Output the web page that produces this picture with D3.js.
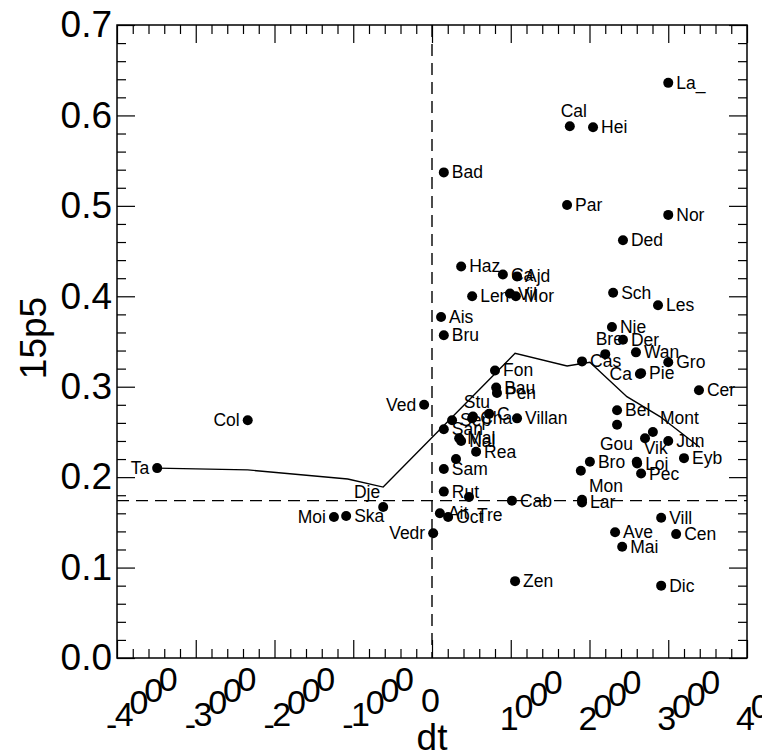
<!DOCTYPE html>
<html>
<head>
<meta charset="utf-8">
<script src="https://cdn.jsdelivr.net/npm/d3@7"></script>
<style>
  body { margin: 0; background: #fff; }
  text { font-family: "Liberation Sans", Arial, sans-serif; fill: #000; }
</style>
</head>
<body>
<script>
// station names, dt and 15p5 values
const names = ["Ta", "Col", "Moi", "Ska", "Dje", "Ved", "Vedr", "Bad", "Ais", "Bru",
  "Haz", "Len", "Ca", "Ajd", "Vil", "Mor", "Fon", "Bau", "Pen", "Stu",
  "Cha", "C", "Villan", "Sep", "San", "Mal", "Nal", "Rea", "", "Sam",
  "Rut", "Tre", "Ait", "Oct", "Cab", "Zen", "Cal", "Hei", "Par", "La_",
  "Nor", "Ded", "Sch", "Les", "Nie", "Der", "Bre", "Wan", "Gro", "Cas",
  "Pie", "Ca", "Cer", "Bel", "", "Mont", "Gou", "Jun", "Eyb", "Bro",
  "", "Vik", "Loi", "Pec", "Mon", "Lar", "Vill", "Ave", "Cen", "Mai", "Dic"];
const dtVals = [-3490, -2340, -1245, -1090, -620, -100, 15, 150, 115, 150,
  370, 510, 900, 1080, 990, 1065, 800, 815, 825, 520,
  510, 725, 1080, 255, 150, 345, 370, 560, 305, 150,
  150, 470, 100, 205, 1015, 1055, 1750, 2045, 1715, 3000,
  3000, 2425, 2300, 2870, 2285, 2425, 2200, 2590, 3000, 1905,
  2655, 2640, 3390, 2350, 2350, 2805, 2705, 3000, 3200, 2005,
  1890, 2600, 2605, 2655, 1905, 1905, 2910, 2325, 3100, 2415, 2910];
const p5Vals = [0.210, 0.263, 0.156, 0.157, 0.167, 0.280, 0.138, 0.537, 0.377, 0.357,
  0.433, 0.400, 0.424, 0.422, 0.403, 0.400, 0.318, 0.299, 0.293, 0.267,
  0.265, 0.270, 0.265, 0.263, 0.253, 0.243, 0.240, 0.228, 0.220, 0.209,
  0.184, 0.178, 0.160, 0.156, 0.174, 0.085, 0.588, 0.587, 0.501, 0.636,
  0.490, 0.462, 0.404, 0.390, 0.366, 0.352, 0.336, 0.338, 0.327, 0.328,
  0.315, 0.314, 0.296, 0.274, 0.258, 0.250, 0.243, 0.240, 0.221, 0.217,
  0.207, 0.217, 0.215, 0.204, 0.175, 0.172, 0.155, 0.139, 0.137, 0.123, 0.080];
// where each label sits relative to its dot
const labelSide = ["l", "l", "l", "r", "tl", "l", "l", "r", "r", "r",
  "r", "r", "r", "r", "r", "r", "r", "r", "r", "t",
  "r", "r", "r", "r", "r", "r", "r", "r", "r", "r",
  "r", "br", "r", "r", "r", "r", "t", "r", "r", "r",
  "r", "r", "r", "r", "r", "r", "t", "r", "r", "r",
  "r", "l", "r", "r", "r", "tr", "bl", "r", "r", "r",
  "r", "tr", "r", "r", "tr", "r", "r", "r", "r", "r", "r"];

// running median line
const trendX = [-3490, -2340, -1070, -620, 1055, 1715, 2005, 2475, 2895, 3400];
const trendY = [0.210, 0.208, 0.198, 0.189, 0.337, 0.323, 0.327, 0.289, 0.267, 0.233];

const refDt = 0, refP5 = 0.174;
const xTicks = d3.range(-4000, 4001, 1000);
const yTicks = d3.range(0, 0.71, 0.1);

const width = 762, height = 755;
const plot = { left: 117, right: 747, top: 25, bottom: 658 };

const svg = d3.select("body").append("svg")
    .attr("width", width)
    .attr("height", height);

svg.append("rect").attr("width", width).attr("height", height).attr("fill", "#fff");

const x = d3.scaleLinear().domain([-4000, 4000]).range([plot.left, plot.right]);
const y = d3.scaleLinear().domain([0, 0.7]).range([plot.bottom, plot.top]);

const minorX = d3.range(-4000, 4001, 200).filter(v => v % 1000 !== 0);
const minorY = d3.range(0, 0.701, 0.02).filter((v, i) => i % 5 !== 0);

// ticks pointing inward on all four sides
function tickAxis(axisFn, scale, vals, size, tx, ty) {
    const g = svg.append("g")
        .attr("transform", `translate(${tx},${ty})`)
        .call(axisFn(scale).tickValues(vals).tickSize(-size).tickSizeOuter(0).tickFormat(""));
    g.select(".domain").remove();
    g.selectAll("line").attr("stroke", "#000").attr("stroke-width", 1.2);
    return g;
}
tickAxis(d3.axisBottom, x, xTicks, 18, 0, plot.bottom);
tickAxis(d3.axisBottom, x, minorX, 9, 0, plot.bottom);
tickAxis(d3.axisTop, x, xTicks, 18, 0, plot.top);
tickAxis(d3.axisTop, x, minorX, 9, 0, plot.top);
tickAxis(d3.axisRight, y, yTicks, 18, plot.right, 0);
tickAxis(d3.axisRight, y, minorY, 9, plot.right, 0);
tickAxis(d3.axisLeft, y, minorY, 9, plot.left, 0);

// left axis with labels
const yAxis = svg.append("g")
    .attr("transform", `translate(${plot.left},0)`)
    .call(d3.axisLeft(y).tickValues(yTicks).tickSize(-18).tickSizeOuter(0)
        .tickPadding(5).tickFormat(d3.format(".1f")));
yAxis.select(".domain").remove();
yAxis.selectAll("line").attr("stroke", "#000").attr("stroke-width", 1.2);
yAxis.selectAll("text")
    .attr("x", -5)
    .attr("font-size", 37)
    .attr("font-family", "Liberation Sans, Arial, sans-serif")
    .attr("fill", "#000");

// frame
svg.append("rect")
    .attr("x", plot.left).attr("y", plot.top)
    .attr("width", plot.right - plot.left).attr("height", plot.bottom - plot.top)
    .attr("fill", "none").attr("stroke", "#000").attr("stroke-width", 1.5);

// x tick labels: glyphs stay upright while the baseline climbs
const xFont = 34, ang = 39 * Math.PI / 180;
const xLab = svg.append("g").attr("font-size", xFont);
xTicks.forEach(v => {
    const chars = String(v).split("");
    const w = chars.map(c => (c === "-" ? 0.333 : 0.556) * xFont);
    const total = d3.sum(w);
    let pos = 0;
    chars.forEach((c, i) => {
        const mid = pos + w[i] / 2;
        xLab.append("text")
            .attr("x", x(v) - 11 + pos * Math.cos(ang))
            .attr("y", 712 + (total / 2 - mid) * Math.sin(ang))
            .text(c);
        pos += w[i];
    });
});

// axis titles
svg.append("text")
    .attr("x", x(0)).attr("y", 750)
    .attr("text-anchor", "middle")
    .attr("font-size", 37)
    .text("dt");

svg.append("text")
    .attr("transform", "translate(46,338) rotate(-90)")
    .attr("text-anchor", "middle")
    .attr("font-size", 37)
    .text("15p5");

// dashed reference lines
svg.append("line")
    .attr("x1", x(refDt)).attr("x2", x(refDt))
    .attr("y1", plot.top).attr("y2", plot.bottom)
    .attr("stroke", "#000").attr("stroke-width", 1.4).attr("stroke-dasharray", "12,7");
svg.append("line")
    .attr("x1", plot.left).attr("x2", plot.right)
    .attr("y1", y(refP5)).attr("y2", y(refP5))
    .attr("stroke", "#000").attr("stroke-width", 1.4).attr("stroke-dasharray", "12,7");

// trend line
const trend = trendX.map((d, i) => [d, trendY[i]]);
svg.append("path")
    .datum(trend)
    .attr("fill", "none")
    .attr("stroke", "#000")
    .attr("stroke-width", 1.4)
    .attr("d", d3.line().x(d => x(d[0])).y(d => y(d[1])));

// points
const pts = names.map((n, i) => ({ name: n, dt: dtVals[i], p5: p5Vals[i], side: labelSide[i] }));

svg.append("g").selectAll("circle")
    .data(pts)
    .enter()
    .append("circle")
    .attr("cx", d => x(d.dt))
    .attr("cy", d => y(d.p5))
    .attr("r", 5)
    .attr("fill", "#000");

const offs = {
    r: [8, 6, "start"], l: [-8, 6, "end"], t: [4, -9, "middle"],
    tl: [-3, -9, "end"], tr: [7, -8, "start"], bl: [-12, 12, "end"], br: [8, 24, "start"]
};
svg.append("g").selectAll("text")
    .data(pts.filter(d => d.name !== ""))
    .enter()
    .append("text")
    .attr("x", d => x(d.dt) + offs[d.side][0])
    .attr("y", d => y(d.p5) + offs[d.side][1])
    .attr("text-anchor", d => offs[d.side][2])
    .attr("font-size", 17.5)
    .text(d => d.name);
</script>
</body>
</html>
